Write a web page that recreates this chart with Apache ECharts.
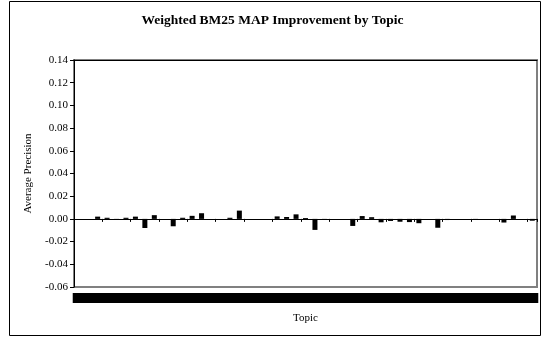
<!DOCTYPE html>
<html>
<head>
<meta charset="utf-8">
<script src="https://cdn.jsdelivr.net/npm/echarts@6/dist/echarts.min.js"></script>
<style>
  html, body { margin: 0; padding: 0; background: #fff; }
  #chart { width: 545px; height: 338px; }
</style>
</head>
<body>
<div id="chart"></div>
<script>
// topic ids (labels overlap into a solid band in the original)
const topics = []
for (let t = 401; t <= 449; t++) topics.push(String(t))

// MAP improvement per topic
const improvement = [
  0, 0, 0.002, 0.001, -0.0008, 0.001, 0.002, -0.008, 0.0033, 0,
  -0.0065, 0.001, 0.0027, 0.005, 0, 0, 0.001, 0.0073, 0, 0,
  0, 0.0022, 0.0017, 0.004, 0.0008, -0.0097, -0.0007, 0, 0, -0.0062,
  0.0025, 0.0015, -0.003, -0.0018, -0.0025, -0.0028, -0.0038, 0, -0.0078, -0.001,
  0, 0, -0.0006, 0, 0, -0.0032, 0.003, 0, -0.0016
]

const yMin = -0.06
const yMax = 0.14
const yStep = 0.02

const serif = 'Liberation Serif'
const chart = echarts.init(document.getElementById('chart'))

chart.setOption({
  animation: false,
  backgroundColor: '#fff',
  textStyle: { fontFamily: serif },
  title: {
    text: 'Weighted BM25 MAP Improvement by Topic',
    left: 'center',
    top: 9,
    textStyle: { fontFamily: serif, fontSize: 13.5, fontWeight: 'bold', color: '#000' }
  },
  grid: {
    left: 74,
    right: 8,
    top: 60,
    bottom: 51,
    show: true,
    borderColor: '#808080',
    borderWidth: 2,
    backgroundColor: '#fff'
  },
  graphic: [{
    type: 'rect',
    shape: { x: 9.5, y: 1.5, width: 531, height: 334 },
    style: { fill: 'none', stroke: '#000', lineWidth: 1 },
    z: 100
  }],
  xAxis: [
    {
      // axis line at zero with ticks
      type: 'category',
      data: topics,
      axisLine: { onZero: true, lineStyle: { color: '#000', width: 1 } },
      axisTick: { show: true, length: 3, lineStyle: { color: '#000' } },
      axisLabel: { show: false },
      splitLine: { show: false }
    },
    {
      // bottom labels
      type: 'category',
      data: topics,
      position: 'bottom',
      axisLine: { show: false, onZero: false },
      axisTick: { show: false },
      axisLabel: {
        interval: 0,
        margin: 6,
        fontSize: 7,
        color: '#000',
        backgroundColor: '#000',
        padding: 0,
        width: 12,
        height: 10,
        lineHeight: 10,
        overflow: 'truncate',
        ellipsis: ''
      },
      name: 'Topic',
      nameLocation: 'middle',
      nameGap: 26,
      nameTextStyle: { fontFamily: serif, fontSize: 11, color: '#000' }
    },
    {
      // black top edge of plot
      type: 'category',
      data: topics,
      position: 'top',
      axisLine: { show: true, onZero: false, lineStyle: { color: '#000', width: 1 } },
      axisTick: { show: false },
      axisLabel: { show: false }
    }
  ],
  yAxis: {
    type: 'value',
    min: yMin,
    max: yMax,
    interval: yStep,
    name: 'Average Precision',
    nameLocation: 'middle',
    nameGap: 40,
    nameTextStyle: { fontFamily: serif, fontSize: 11, color: '#000' },
    axisLine: { show: true, lineStyle: { color: '#000', width: 1 } },
    axisTick: { show: true, length: 4, inside: false, lineStyle: { color: '#000' } },
    axisLabel: {
      margin: 6,
      fontSize: 11,
      color: '#000',
      fontFamily: serif,
      formatter: v => v.toFixed(2)
    },
    splitLine: { show: false }
  },
  series: [{
    type: 'bar',
    xAxisIndex: 0,
    data: improvement,
    barWidth: 5,
    itemStyle: { color: '#000' }
  }]
})
</script>
</body>
</html>
